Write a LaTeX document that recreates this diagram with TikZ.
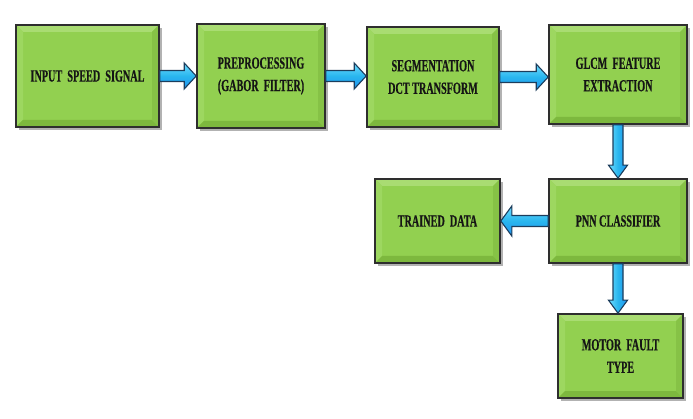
\documentclass[tikz,border=0pt]{standalone}
\usepackage{fontspec}
\newfontfamily\boxfont[FakeStretch=0.6,FakeBold=0.4]{Liberation Serif}
\usetikzlibrary{calc,shadows}
\definecolor{boxgreen}{HTML}{92D050}
\definecolor{bevtop}{HTML}{A9DC72}
\definecolor{bevleft}{HTML}{9DD760}
\definecolor{bevbot}{HTML}{7DB83E}
\definecolor{bevright}{HTML}{86C246}
\definecolor{boxline}{HTML}{2E2E2E}
\definecolor{arrowfill}{HTML}{29B6EE}
\definecolor{arrowtop}{HTML}{6FDBFF}
\definecolor{arrowline}{HTML}{1C3D5C}
\definecolor{txt}{HTML}{151515}
\tikzset{
  greenbox/.style={rectangle, fill=boxgreen, draw=boxline, line width=1.6pt,
    align=center, text=txt, inner sep=2pt,
    font=\boxfont\bfseries\fontsize{17}{22.5}\selectfont,
    drop shadow={shadow xshift=2.5pt, shadow yshift=-3pt, fill=black!55, opacity=0.55},
    path picture={
      \coordinate (NW) at (path picture bounding box.north west);
      \coordinate (NE) at (path picture bounding box.north east);
      \coordinate (SW) at (path picture bounding box.south west);
      \coordinate (SE) at (path picture bounding box.south east);
      \fill[bevtop] (NW) -- (NE) -- ($(NE)+(-7pt,-7pt)$) -- ($(NW)+(7pt,-7pt)$) -- cycle;
      \fill[bevleft] (NW) -- (SW) -- ($(SW)+(7pt,7pt)$) -- ($(NW)+(7pt,-7pt)$) -- cycle;
      \fill[bevbot] (SW) -- (SE) -- ($(SE)+(-7pt,7pt)$) -- ($(SW)+(7pt,7pt)$) -- cycle;
      \fill[bevright] (NE) -- (SE) -- ($(SE)+(-7pt,7pt)$) -- ($(NE)+(-7pt,-7pt)$) -- cycle;
    }},
  harr/.style={draw=arrowline, line width=1.1pt, line join=miter, top color=arrowtop, bottom color=arrowfill!80!blue, middle color=arrowfill},
  varr/.style={draw=arrowline, line width=1.1pt, line join=miter, left color=arrowtop, right color=arrowfill!80!blue, middle color=arrowfill}
}
\newcommand\arrowRight[2]{%
  \path let \p1=(#1.east), \p2=(#2.west) in
    [harr] (\x1,\y1+5.5pt) -- (\x2-12pt,\y1+5.5pt) -- (\x2-12pt,\y1+13pt) -- (\x2,\y1)
    -- (\x2-12pt,\y1-13pt) -- (\x2-12pt,\y1-5.5pt) -- (\x1,\y1-5.5pt) -- cycle;}
\newcommand\arrowLeft[2]{%
  \path let \p1=(#1.west), \p2=(#2.east) in
    [harr] (\x1,\y1+5.5pt) -- (\x2+11pt,\y1+5.5pt) -- (\x2+11pt,\y1+15pt) -- (\x2,\y1)
    -- (\x2+11pt,\y1-15pt) -- (\x2+11pt,\y1-5.5pt) -- (\x1,\y1-5.5pt) -- cycle;}
\newcommand\arrowDown[2]{%
  \path let \p1=(#1.south), \p2=(#2.north) in
    [varr] (\x1-5pt,\y1) -- (\x1-5pt,\y2+13pt) -- (\x1-9.5pt,\y2+13pt) -- (\x1,\y2)
    -- (\x1+9.5pt,\y2+13pt) -- (\x1+5pt,\y2+13pt) -- (\x1+5pt,\y1) -- cycle;}
\begin{document}
\begin{tikzpicture}[x=1pt,y=1pt]
\useasboundingbox (0,0) rectangle (693,-419);
\node[greenbox, minimum width=143pt, minimum height=102pt] (input) at (87.5,-76) {INPUT\ \ SPEED\ \ SIGNAL};
\node[greenbox, minimum width=128pt, minimum height=104pt] (pre) at (261,-76) {PREPROCESSING\\(GABOR\ \ FILTER)};
\node[greenbox, minimum width=132pt, minimum height=100pt] (seg) at (433,-77) {SEGMENTATION\\DCT TRANSFORM};
\node[greenbox, minimum width=138pt, minimum height=99pt] (glcm) at (618,-74.5) {GLCM\ \ FEATURE\\EXTRACTION};
\node[greenbox, minimum width=138pt, minimum height=84pt] (pnn) at (618,-221) {PNN CLASSIFIER};
\node[greenbox, minimum width=125pt, minimum height=84pt] (trained) at (437.5,-221) {TRAINED\ \ DATA};
\node[greenbox, minimum width=125pt, minimum height=84pt] (motor) at (620.5,-356) {MOTOR\ \ FAULT\\TYPE};
\arrowRight{input}{pre}
\arrowRight{pre}{seg}
\arrowRight{seg}{glcm}
\arrowDown{glcm}{pnn}
\arrowLeft{pnn}{trained}
\arrowDown{pnn}{motor}
\end{tikzpicture}
\end{document}
